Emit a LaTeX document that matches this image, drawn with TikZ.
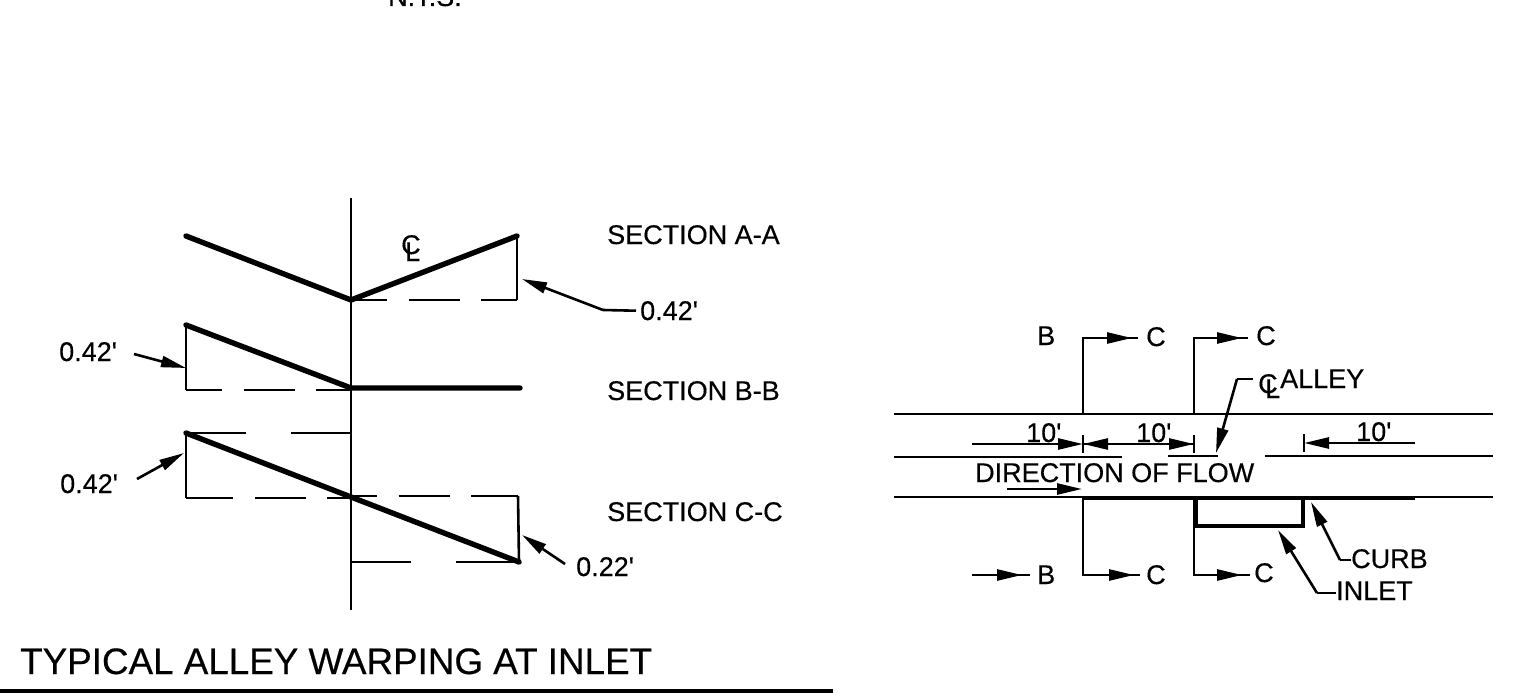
\documentclass[tikz,border=0pt]{standalone}
\usepackage{fontspec}
\newfontfamily\drawfont[FakeBold=0.4]{Liberation Sans}
\usetikzlibrary{arrows.meta}
\tikzset{
    thin line/.style={line width=2.6pt},
    thick line/.style={line width=5.4pt, line cap=round, line join=round},
    long dash/.style={thin line, dash pattern=on 51pt off 21.5pt},
    wide dash/.style={thin line, dash pattern=on 60pt off 45pt},
    leader/.style={thin line, -{Stealth[inset=0pt, length=25pt, width=11pt]}},
    lbl/.style={inner sep=0pt, anchor=base west, font=\drawfont\fontsize{27}{30}\selectfont},
    ttl/.style={inner sep=0pt, anchor=base west, font=\drawfont\fontsize{36.8}{40}\selectfont}
}
\begin{document}
\begin{tikzpicture}[x=1pt, y=-1pt]
        \useasboundingbox (0,0) rectangle (1521,693);
        % profiles on the left
        \coordinate (top) at (351,198);
        \coordinate (bot) at (351,610);
        \draw[thin line] (top)--(bot);

        \coordinate (aL) at (186,236);
        \coordinate (aM) at (351,300);
        \coordinate (aR) at (517,236);
        \coordinate (aC) at (517,300);
        \draw[thick line] (aL)--(aM)--(aR);
        \draw[thin line] (aR)--(aC);
        \draw[long dash, dash phase=15pt] (aM)--(aC);

        \coordinate (bL) at (186,325);
        \coordinate (bM) at (351,388);
        \coordinate (bR) at (520,388);
        \coordinate (bC) at (186,390);
        \draw[thick line] (bL)--(bM)--(bR);
        \draw[thin line] (bL)--(bC);
        \draw[long dash, dash phase=15pt] (bC)--(351,390);

        \coordinate (cL) at (186,433);
        \coordinate (cM) at (351,497);
        \coordinate (cR) at (519,562);
        \coordinate (cD) at (186,498);
        \coordinate (cU) at (518,496);
        \draw[thick line] (cL)--(cM)--(cR);
        \draw[thin line] (cL)--(cD);
        \draw[thin line] (cU)--(cR);
        \draw[wide dash] (cL)--(351,433);
        \draw[long dash, dash phase=4pt] (cD)--(351,498);
        \draw[long dash, dash phase=25pt] (351,496)--(cU);
        \draw[wide dash] (351,562)--(cR);

        % labels on the left
        \node[lbl] (secA) at (607,244) {SECTION A-A};
        \node[lbl] (secB) at (607,400) {SECTION B-B};
        \node[lbl] (secC) at (607,521) {SECTION C-C};
        \node[lbl] (clC) at (401,254) {C};
        \node[lbl] (clL) at (405,261) {L};
        \node[lbl] (dimA) at (640,320) {0.42'};
        \node[lbl] (dimB) at (59,361) {0.42'};
        \node[lbl] (dimC) at (60,493) {0.42'};
        \node[lbl] (dimD) at (576,576) {0.22'};
        \node[ttl] (title) at (20,674) {TYPICAL ALLEY WARPING AT INLET};
        \node[lbl] (nts) at (388,6) {N.T.S.};

        \coordinate (leadA) at (603,310);
        \coordinate (tipA) at (522,279);
        \draw[thin line] ([xshift=-4pt]dimA.west)--(leadA);
        \draw[leader] (leadA)--(tipA);
        \coordinate (leadB) at (134,354);
        \coordinate (tipB) at (186,368);
        \draw[leader] (leadB)--(tipB);
        \coordinate (leadC) at (137,479);
        \coordinate (tipC) at (184,453);
        \draw[leader] (leadC)--(tipC);
        \coordinate (leadD) at (565,564);
        \coordinate (tipD) at (522,535);
        \draw[leader] (leadD)--(tipD);

        \coordinate (barL) at (0,691);
        \coordinate (barR) at (833,691);
        \draw[line width=5pt] (barL)--(barR);

        % plan on the right
        \draw[thin line] (894,414)--(1493,414);
        \draw[thin line] (894,457)--(1122,457);
        \draw[thin line] (1168,456)--(1218,456);
        \draw[thin line] (1265,456)--(1493,456);
        \draw[thin line] (894,497)--(1493,497);
        \draw[line width=3.4pt] (1083,498)--(1415,498);
        \draw[line width=4.4pt] (1196,498)--(1196,526)--(1303,526)--(1303,498);

        % section cuts
        \node[lbl] (cutB1) at (1037,345) {B};
        \node[lbl] (cutC1) at (1146,346) {C};
        \node[lbl] (cutC2) at (1256,345) {C};
        \node[lbl] (cutB2) at (1037,584) {B};
        \node[lbl] (cutC3) at (1146,584) {C};
        \node[lbl] (cutC4) at (1254,582) {C};
        \draw[thin line] (1083,414)--(1083,338)--(1138,338);
        \draw[leader] (1083,338)--(1132,338);
        \draw[thin line] (1194,414)--(1194,338)--(1248,338);
        \draw[leader] (1194,338)--(1242,338);
        \draw[thin line] (1083,497)--(1083,575)--(1140,575);
        \draw[leader] (1083,575)--(1134,575);
        \draw[thin line] (1194,497)--(1194,575)--(1250,575);
        \draw[leader] (1194,575)--(1242,575);
        \draw[thin line] (972,575)--(1030,575);
        \draw[leader] (972,575)--(1022,575);

        % dimensions
        \node[lbl] (ten1) at (1026,442) {10'};
        \node[lbl] (ten2) at (1136,442) {10'};
        \node[lbl] (ten3) at (1356,441) {10'};
        \draw[leader] (972,444)--(1083,444);
        \draw[leader] (1194,444)--(1083,444);
        \draw[leader] (1083,444)--(1194,444);
        \draw[leader] (1415,443)--(1304,443);
        \draw[thin line] (1083,435)--(1083,453);
        \draw[thin line] (1194,435)--(1194,453);
        \draw[thin line] (1304,434)--(1304,452);

        % flow and callouts
        \node[lbl] (flow) at (975,482) {DIRECTION OF FLOW};
        \draw[leader] (1007,489)--(1082,489);
        \node[lbl] (allC) at (1258,393) {C};
        \node[lbl] (allL) at (1265,398) {L};
        \node[lbl] (alley) at (1280,388) {ALLEY};
        \node[lbl] (curb) at (1351,568) {CURB};
        \node[lbl] (inlet) at (1336,600) {INLET};
        \coordinate (tipAlley) at (1216,453);
        \coordinate (kneeAlley) at (1237,379);
        \coordinate (tipCurb) at (1311,502);
        \coordinate (kneeCurb) at (1340,560);
        \coordinate (tipInlet) at (1278,530);
        \coordinate (kneeInlet) at (1317,593);
        \draw[thin line] (1253,379)--(kneeAlley);
        \draw[leader] (kneeAlley)--(tipAlley);
        \draw[thin line] (curb.west |- kneeCurb)--(kneeCurb);
        \draw[leader] (kneeCurb)--(tipCurb);
        \draw[thin line] (inlet.west |- kneeInlet)--(kneeInlet);
        \draw[leader] (kneeInlet)--(tipInlet);
\end{tikzpicture}
\end{document}
